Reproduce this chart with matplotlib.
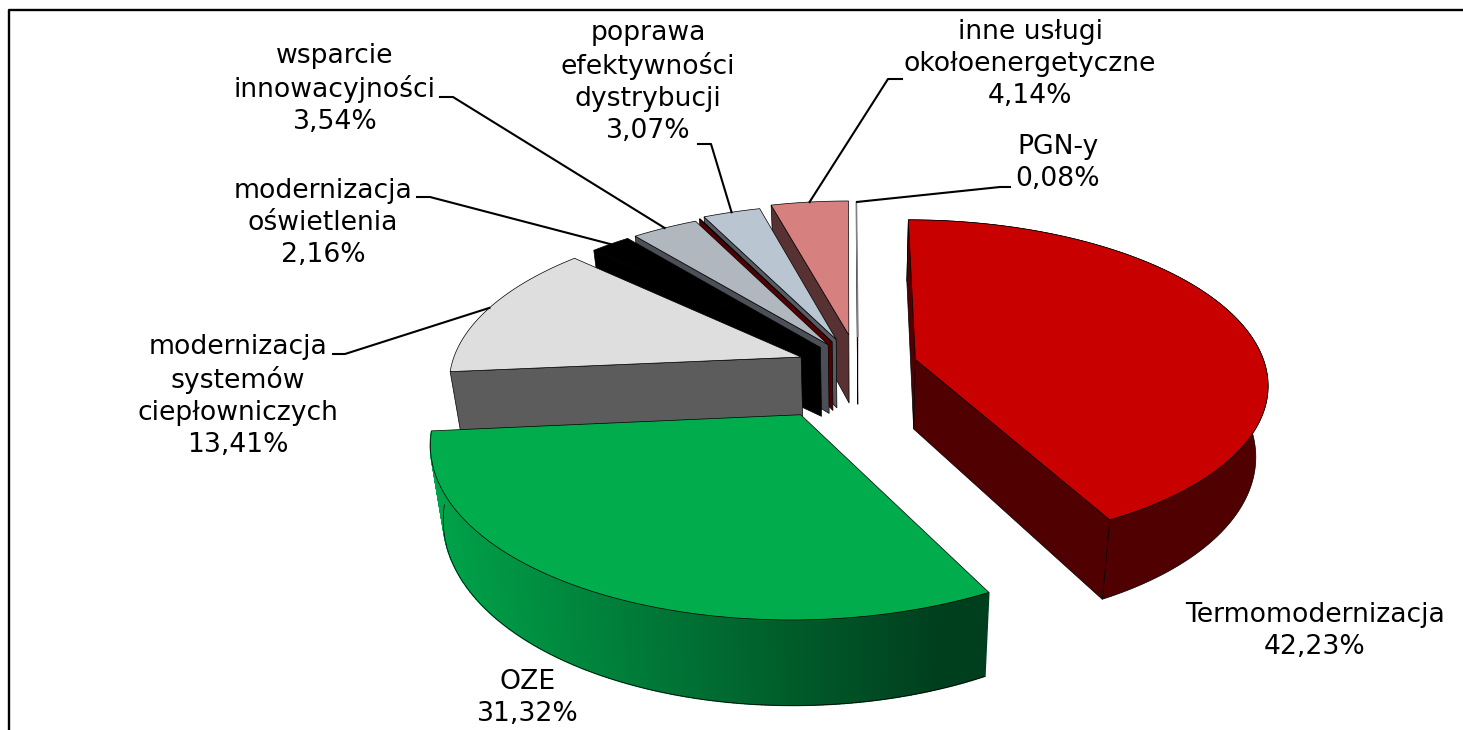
import numpy as np
import matplotlib
matplotlib.use("Agg")
import matplotlib.pyplot as plt
from matplotlib.colors import to_rgb

names = ["Termomodernizacja", "OZE", "modernizacja\nsystemów\nciepłowniczych",
         "modernizacja\noświetlenia", "wsparcie\ninnowacyjności", "",
         "poprawa\nefektywności\ndystrybucji", "inne usługi\nokołoenergetyczne", "PGN-y"]
shares = [42.23, 31.32, 13.41, 2.16, 3.54, 0.05, 3.07, 4.14, 0.08]

explode = [0.17, 0.33, 0.173, 0.16, 0.16, 0.17, 0.18, 0.20, 0.19]
top_colors = ["#c80000", "#00ac4c", "#dedede", "#000000", "#b0b7bf", "#500000", "#b9c5d1", "#d68080", "#ffffff"]
side_colors = ["#500000", "#009a44", "#5c5c5c", "#000000", "#4c4f57", "#500000", "#555a63", "#583232", "#808080"]
label_pos = [(1315, 631), (528, 698), (238, 396), (323, 223), (335, 89), None, (648, 82), (1030, 64), (1058, 163)]
# label side of the leader line, None = no leader
leader_start = [None, None, [(333, 354), (345, 354)], [(417, 197), (430, 197)], [(440, 97), (453, 97)], None,
                [(698, 144), (711, 144)], [(902, 79), (888, 79)], [(1010, 187), (1000, 187)]]

# projection of the pie plane onto the picture, in pixels
U0, V0 = 858, 366
SX, SY, PERSP = 350, 161, 0.141
DEPTH, SHRINK = 70, 0.03


def project(x, y, z=0.0):
    w = 1 + PERSP * y
    u = U0 + SX * x / w * (1 - SHRINK * z)
    v = V0 - SY * y / w + DEPTH * z / w
    return np.column_stack([u, v])


def slice_points(a0, a1, off, z):
    t = np.radians(np.linspace(a0, a1, 200))
    return project(off[0] + np.sin(t), off[1] + np.cos(t), z)


fig = plt.figure(figsize=(14.63, 7.30), dpi=100)
ax = fig.add_axes([0, 0, 1, 1])
ax.set_xlim(0, 1463)
ax.set_ylim(730, 0)
ax.axis("off")

edges = np.concatenate([[0], np.cumsum(shares)]) * 3.6
mids = (edges[:-1] + edges[1:]) / 2

# back to front
order = [8, 7, 6, 5, 4, 3, 2, 0, 1]
lw = 0.5
ec = "#000000"
for i in order:
    a0, a1 = edges[i], edges[i + 1]
    m = np.radians(mids[i])
    off = (explode[i] * np.sin(m), explode[i] * np.cos(m))
    top = slice_points(a0, a1, off, 0)
    bot = slice_points(a0, a1, off, 1)
    apex_top = project(np.array([off[0]]), np.array([off[1]]), 0)
    apex_bot = project(np.array([off[0]]), np.array([off[1]]), 1)

    # outer wall, only the two big slices show it
    if i == 1:
        left, right = to_rgb("#00a34a"), to_rgb("#003f1e")
        for j in range(len(top) - 1):
            quad = np.vstack([top[j], top[j + 1], bot[j + 1], bot[j]])
            f = min(max((top[j][0] - 430) / (940 - 430), 0), 1)
            c = [left[k] + (right[k] - left[k]) * f for k in range(3)]
            ax.fill(quad[:, 0], quad[:, 1], color=c, lw=1.0)
        ax.plot(bot[:, 0], bot[:, 1], color=ec, lw=lw)
    elif i == 0:
        wall = np.vstack([top, bot[::-1]])
        ax.fill(wall[:, 0], wall[:, 1], fc=side_colors[i], ec=ec, lw=lw)

    # radial walls that face the viewer
    walls = []
    if i == 0:
        walls = [(top[0], bot[0]), (top[-1], bot[-1])]
    elif i > 1:
        walls = [(top[0], bot[0])]
    for p_top, p_bot in walls:
        face = np.vstack([apex_top, p_top, p_bot, apex_bot])
        ax.fill(face[:, 0], face[:, 1], fc=side_colors[i], ec=ec, lw=lw)

    surf = np.vstack([apex_top, top])
    if i == 8:
        ax.plot(surf[:, 0], surf[:, 1], color="#808080", lw=1.2)
    else:
        ax.fill(surf[:, 0], surf[:, 1], fc=top_colors[i], ec=ec, lw=lw)

for i in range(len(shares)):
    if label_pos[i] is None:
        continue
    txt = names[i] + "\n" + f"{shares[i]:.2f}".replace(".", ",") + "%"
    ax.text(label_pos[i][0], label_pos[i][1], txt, ha="center", va="center", fontsize=19.2,
            family="DejaVu Sans", linespacing=1.3, color="black")
    if leader_start[i] is not None:
        m = np.radians(mids[i])
        e = explode[i]
        end = project(np.array([(1 + e) * np.sin(m)]), np.array([(1 + e) * np.cos(m)]), 0)[0]
        pts = np.array(list(leader_start[i]) + [tuple(end)])
        ax.plot(pts[:, 0], pts[:, 1], color="black", lw=1.5, zorder=5)

# chart frame, the picture cuts it at the right and at the bottom
ax.plot([9, 9, 1463], [730, 10, 10], color="black", lw=1.7, clip_on=False)

fig.savefig("out.png", dpi=100)
